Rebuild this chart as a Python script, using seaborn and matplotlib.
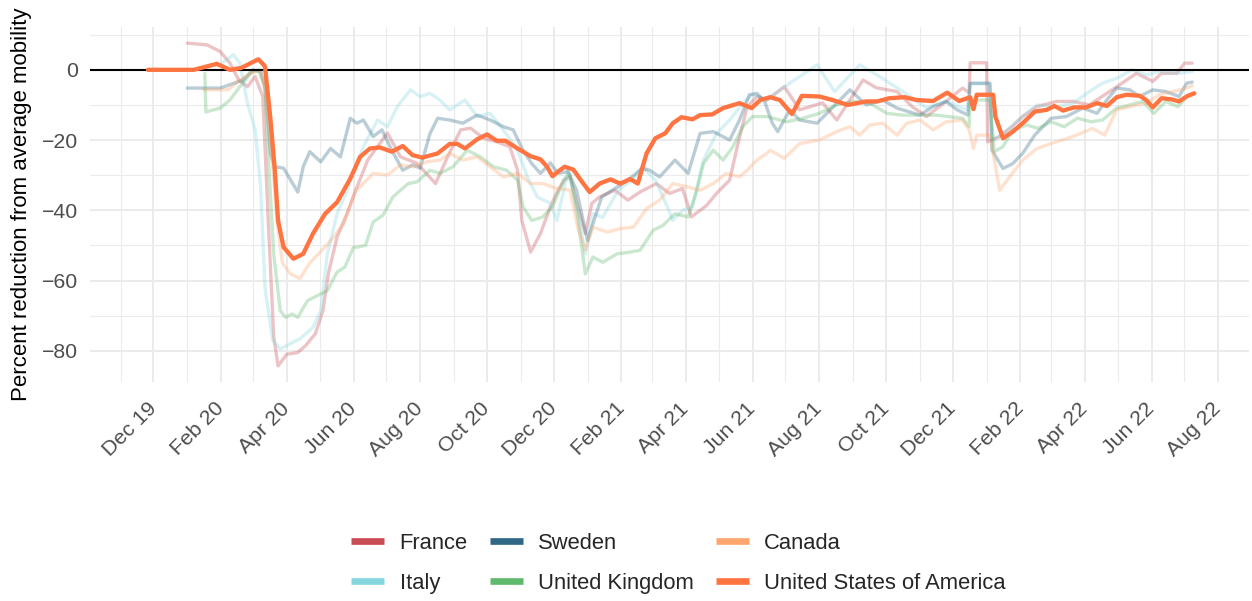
import pandas as pd
import matplotlib
matplotlib.use("Agg")
import matplotlib.pyplot as plt
import matplotlib.dates as mdates
from matplotlib.ticker import MultipleLocator
from matplotlib.lines import Line2D
import seaborn as sns

# Days since 1 Dec 2019 and percent change from average mobility
START = pd.Timestamp("2019-12-01")

countries = ["France", "Italy", "Sweden", "United Kingdom", "Canada", "United States of America"]
colors = ["#C84C54", "#86D6E0", "#2E6884", "#60BA6E", "#FFA66E", "#FF7440"]

france_days = [31, 49, 61, 70, 78, 86, 93, 100, 105, 110, 114, 122, 132, 139, 148, 155, 160, 168, 177, 185,
               196, 214, 226, 241, 258, 269, 281, 290, 302, 314, 326, 333, 337, 345, 354, 363, 370, 376, 381,
               388, 395, 401, 408, 422, 434, 445, 460, 472, 484, 492, 506, 515, 527, 534, 543, 552, 561, 577,
               591, 612, 625, 649, 661, 680, 694, 707, 725, 740, 746, 747, 762, 763, 774, 786, 795, 808, 826,
               841, 856, 872, 886, 899, 914, 922, 936, 943, 950]
france_vals = [7.6, 7.1, 5.2, 1.9, -2.9, -4.8, -1.9, -7.6, -43, -76, -84.3, -81, -80.5, -78.6, -75.2, -68.6,
               -58, -47.6, -41, -34.3, -25.7, -18, -24.8, -26.6, -32.4, -24.8, -17.1, -16.6, -19.5, -20.5,
               -21.9, -28.6, -43, -51.9, -46.6, -39, -34.3, -31.4, -30.5, -39, -46.6, -38, -36.2, -34.3,
               -37.1, -34.8, -32.4, -35.2, -33.8, -41.9, -38.6, -35.2, -31.4, -21.9, -10.5, -7.6, -8.6,
               -4.8, -11.4, -9.4, -14.3, -2.9, -5.1, -6.2, -10.5, -13.3, -9, -5.2, -6.5, 2, 2, -20.5, -19,
               -16, -13.3, -10.5, -9, -9, -10, -6.7, -3.8, -1, -3.3, -1, -1, 1.9, 1.9]

italy_days = [63, 73, 79, 86, 93, 98, 102, 109, 116, 125, 134, 146, 153, 159, 168, 177, 192, 205, 214, 223,
              235, 244, 253, 262, 271, 285, 296, 308, 320, 333, 342, 351, 363, 369, 376, 379, 388, 395, 402,
              411, 425, 438, 447, 459, 470, 475, 484, 493, 503, 515, 527, 539, 548, 561, 582, 607, 623, 646,
              664, 683, 707, 725, 744, 747, 765, 767, 778, 792, 808, 826, 841, 856, 868, 881, 895, 908, 920,
              938, 950]
italy_vals = [2, 4.3, 2, -9.5, -17, -33, -62, -77, -79.5, -78, -76.6, -73.3, -68.6, -52.4, -41, -34.3,
              -21.9, -14.3, -16.2, -10.5, -5.7, -7.6, -6.7, -8.6, -11.4, -8.6, -13.3, -12.4, -17.1, -22.9,
              -30.5, -36.2, -38, -42.9, -33.3, -28.6, -40, -52.4, -41, -42, -34.3, -31.4, -27.6, -31.4, -39,
              -42.9, -40, -39, -25.7, -18.1, -14.3, -9.5, -7.1, -8.6, -3.8, 1.4, -6.2, 1.4, -1.9, -5.7,
              -10.8, -9, -11.4, -4, -4, -20, -18, -14, -10, -10.5, -9.5, -6.2, -3.8, -2.4, 0, -1.5, -0.5,
              -1, -0.5]

sweden_days = [31, 61, 72, 82, 91, 98, 102, 107, 111, 119, 132, 137, 143, 153, 162, 171, 180, 186, 192, 201,
               209, 218, 228, 237, 244, 253, 260, 271, 283, 296, 308, 320, 329, 338, 346, 354, 363, 370, 379,
               387, 397, 404, 410, 422, 434, 447, 454, 463, 477, 489, 500, 512, 527, 536, 545, 552, 559, 566,
               571, 582, 591, 607, 637, 652, 667, 680, 701, 713, 725, 735, 745, 747, 765, 767, 777, 786, 795,
               806, 821, 835, 850, 863, 872, 881, 893, 902, 914, 926, 938, 945, 950]
sweden_vals = [-5.2, -5.2, -4, -2.9, 0, -0.5, -4.8, -23.8, -27.6, -28, -34.8, -27.6, -23.3, -26.2, -22.4,
               -24.8, -13.8, -15.2, -14.3, -19, -17.1, -22.9, -28.6, -27.1, -28, -18.1, -13.8, -14.3, -15.2,
               -12.9, -14.3, -16.2, -17.1, -22.9, -26.7, -29.5, -26.5, -29.5, -29, -34.3, -48.6, -41.9,
               -36.2, -33.8, -31.4, -28.1, -28.6, -30.5, -25.7, -29.5, -18.1, -17.6, -20, -14.3, -7.1, -6.7,
               -9, -15.2, -17.6, -11.4, -14.3, -15.2, -5.7, -10, -8.6, -10.9, -12.9, -10.5, -9, -11.4, -12.9,
               -3.8, -3.8, -22.9, -28.1, -26.7, -23.8, -18.6, -13.8, -13.3, -10.9, -12.4, -8.6, -5.2, -5.7,
               -7.6, -5.7, -6.2, -7.6, -3.8, -3.5]

uk_days = [47, 48, 61, 70, 79, 89, 96, 102, 105, 110, 116, 121, 127, 132, 141, 150, 159, 168, 175, 183, 186,
           194, 201, 210, 219, 233, 241, 253, 262, 274, 287, 299, 311, 323, 333, 338, 346, 356, 365, 375, 381,
           388, 395, 402, 411, 424, 436, 445, 457, 466, 477, 489, 497, 503, 512, 521, 530, 539, 548, 561, 579,
           594, 609, 625, 640, 655, 671, 685, 716, 740, 746, 747, 765, 769, 777, 786, 799, 809, 821, 833, 845,
           858, 868, 881, 893, 905, 915, 926, 937, 945, 950]
uk_vals = [-1, -12, -10.9, -8.6, -4.8, -1, 0, -5, -24, -52.4, -68.6, -70.5, -69.5, -70.5, -65.7, -64.3,
           -62.9, -57.6, -56.2, -50.5, -50.5, -50, -43.3, -41.4, -36.2, -32.4, -31.9, -28.6, -29.5, -27.6,
           -22.9, -24.8, -27.6, -28.6, -31.4, -39, -42.9, -41.9, -39, -31.4, -29.5, -41.9, -58.1, -53.3,
           -54.8, -52.4, -51.9, -51.4, -45.7, -44.3, -41, -41.9, -34.3, -26.7, -22.9, -25.7, -21.9, -16.2,
           -13.3, -13.3, -14.8, -13.8, -12.4, -10, -9, -9.5, -12.4, -12.9, -12.9, -13.8, -16.2, -8.6, -8.6,
           -23.3, -21.9, -17.1, -15.7, -16.7, -14.8, -16.2, -13.8, -14.8, -14.3, -10.9, -10, -9, -12.4, -9,
           -10.5, -7.6, -7.1]

canada_days = [46, 68, 79, 89, 98, 104, 109, 113, 118, 125, 134, 143, 154, 164, 174, 185, 189, 201, 214, 226,
               238, 250, 262, 271, 283, 296, 308, 320, 333, 345, 356, 369, 381, 388, 395, 402, 415, 427, 439,
               451, 463, 475, 488, 500, 512, 524, 536, 543, 552, 561, 564, 577, 591, 609, 625, 637, 646, 655,
               667, 680, 689, 701, 713, 725, 740, 746, 750, 753, 765, 774, 783, 795, 808, 826, 841, 859, 870,
               881, 893, 908, 920, 932, 945, 950]
canada_vals = [-5.7, -5.7, -2.9, -1, 0, -8.6, -27, -43, -55, -58, -59.5, -55, -51.4, -48, -43.8, -34.3,
               -33.3, -29.5, -30, -27.1, -27.6, -26.2, -25.7, -23.8, -25.7, -24.8, -27.6, -30.5, -29.5, -32.4,
               -32.4, -33.8, -34.3, -44.8, -51.4, -44.8, -46.2, -45.2, -44.8, -39.5, -37.1, -32.4, -33.3,
               -34.3, -32.4, -29.5, -30.5, -28.6, -25.7, -23.8, -22.9, -25.2, -21, -20, -17.6, -16.2, -18.6,
               -15.7, -15.2, -18.6, -15.2, -14.3, -17.1, -14.8, -14.3, -17.1, -22.4, -18.6, -18.6, -34.3,
               -30.5, -25.7, -22.4, -20.5, -19, -16.7, -18.6, -11.4, -10.5, -9.5, -7.1, -6.2, -5.2, -4.5]

usa_days = [-5, 37, 58, 70, 80, 96, 102, 107, 111, 114, 119, 128, 137, 146, 157, 168, 180, 189, 198, 207,
            218, 228, 237, 246, 260, 271, 278, 285, 296, 305, 314, 322, 333, 345, 354, 360, 365, 370, 376, 384,
            392, 399, 408, 418, 427, 436, 443, 451, 459, 468, 475, 483, 493, 500, 511, 521, 536, 547, 555, 564,
            573, 584, 593, 609, 621, 635, 652, 662, 673, 687, 698, 713, 726, 737, 747, 750, 753, 768, 770, 777,
            786, 795, 806, 817, 824, 832, 842, 853, 863, 872, 881, 890, 902, 908, 914, 922, 931, 938, 946, 952]
usa_vals = [0, 0, 1.7, 0, 0.5, 3, 1, -14, -28.6, -43, -50.5, -53.8, -52.4, -46.6, -41, -37.7, -31, -24.8,
            -22.4, -22.1, -23.3, -21.7, -24.3, -25, -23.8, -21.1, -21.1, -22.4, -19.8, -18.4, -20.2, -20.2,
            -22.4, -24.6, -25.5, -27.6, -30.3, -29, -27.6, -28.4, -31.9, -34.8, -32.4, -31.2, -32.4, -31.1,
            -32.4, -23.8, -19.5, -18.1, -15.2, -13.5, -14.1, -12.9, -12.7, -10.9, -9.5, -10.9, -8.6, -7.8,
            -8.6, -12.6, -7.4, -7.6, -8.6, -10, -9, -9, -8.1, -7.8, -8.6, -8.9, -6.5, -8.9, -7.8, -11.2,
            -7.1, -7.1, -13.3, -19.5, -17.6, -15.2, -11.9, -11.4, -10.3, -11.6, -10.7, -10.7, -9.5, -10.3,
            -7.8, -7.1, -7.4, -8.6, -10.7, -8.1, -8.4, -9, -7.4, -6.7]

series = {
    "France": (france_days, france_vals),
    "Italy": (italy_days, italy_vals),
    "Sweden": (sweden_days, sweden_vals),
    "United Kingdom": (uk_days, uk_vals),
    "Canada": (canada_days, canada_vals),
    "United States of America": (usa_days, usa_vals),
}

frames = []
for name, (days, vals) in series.items():
    frames.append(pd.DataFrame({
        "date": START + pd.to_timedelta(days, unit="D"),
        "value": vals,
        "country": name,
    }))
df = pd.concat(frames, ignore_index=True)

palette = dict(zip(countries, colors))
focus = "United States of America"

sns.set_theme(style="white")
plt.rcParams["font.family"] = ["Liberation Sans", "DejaVu Sans"]

fig = plt.figure(figsize=(12.52, 6.01), dpi=100)
ax = fig.add_axes([0.0719, 0.3644, 0.9257, 0.5907])

others = df[df["country"] != focus]
sns.lineplot(data=others, x="date", y="value", hue="country", hue_order=countries[:5],
             palette=palette, estimator=None, sort=False, linewidth=2.4, alpha=0.33,
             legend=False, ax=ax, zorder=2)
ax.axhline(0, color="black", linewidth=1.5, zorder=3)
sns.lineplot(data=df[df["country"] == focus], x="date", y="value", color=palette[focus],
             estimator=None, sort=False, linewidth=3.1, legend=False, ax=ax, zorder=4)

# panel range: a little wider than the data, as in the original
ax.set_xlim(START - pd.Timedelta(days=58), START + pd.Timedelta(days=1002))
ax.margins(y=0.05)

ax.xaxis.set_major_locator(mdates.MonthLocator(bymonth=[2, 4, 6, 8, 10, 12]))
ax.xaxis.set_minor_locator(mdates.MonthLocator(bymonth=[1, 3, 5, 7, 9, 11]))
ax.xaxis.set_major_formatter(mdates.DateFormatter("%b %y"))
ax.yaxis.set_major_locator(MultipleLocator(20))
ax.yaxis.set_minor_locator(MultipleLocator(10))

ax.grid(which="major", color="#EBEBEB", linewidth=1.4)
ax.grid(which="minor", color="#EBEBEB", linewidth=0.8)
ax.set_axisbelow(True)
for s in ax.spines.values():
    s.set_visible(False)

ax.tick_params(which="both", length=0, labelsize=15.3, labelcolor="#4D4D4D")
ax.tick_params(axis="y", pad=8.5)
ax.tick_params(axis="x", pad=17)
plt.setp(ax.get_xticklabels(), rotation=45, ha="right", va="center", rotation_mode="anchor")

ax.set_xlabel("")
ax.set_ylabel("Percent reduction from average mobility", fontsize=16, color="black", labelpad=7)

handles = [Line2D([0], [0], color=palette[c], linewidth=4.8, solid_capstyle="butt") for c in countries]
fig.legend(handles, countries, ncol=3, loc="center", bbox_to_anchor=(0.542, 0.0624), frameon=False,
           fontsize=15.8, handlelength=1.5, handletextpad=0.7, columnspacing=1.0, labelspacing=0.85)

fig.savefig("out.png", dpi=100)
